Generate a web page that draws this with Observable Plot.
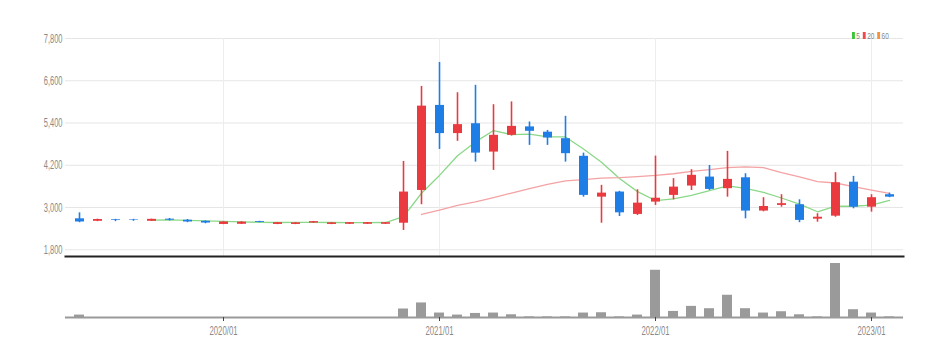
<!DOCTYPE html>
<html><head><meta charset="utf-8">
<script src="https://cdn.jsdelivr.net/npm/d3@7"></script>
<script src="https://cdn.jsdelivr.net/npm/@observablehq/plot@0.6"></script>
<style>
html,body{margin:0;padding:0;background:#fff;}
#wrap{position:relative;width:946px;height:356px;overflow:hidden;font-family:"Liberation Sans",Arial,sans-serif;}
#price{position:absolute;left:0;top:0;}
#vol{position:absolute;left:0;top:258px;}
#legend{position:absolute;left:852px;top:19px;transform:scaleX(0.72);transform-origin:0 0;}
#legend .lg-swatch{margin-right:4px !important;}
#legend .lg-swatch svg{margin-right:2px !important;}
</style></head><body>
<div id="wrap"><div id="price"></div><div id="vol"></div><div id="legend"></div></div>
<script>
const months = [
  "2019/05","2019/06","2019/07","2019/08","2019/09","2019/10","2019/11","2019/12",
  "2020/01","2020/02","2020/03","2020/04","2020/05","2020/06","2020/07","2020/08","2020/09","2020/10","2020/11","2020/12",
  "2021/01","2021/02","2021/03","2021/04","2021/05","2021/06","2021/07","2021/08","2021/09","2021/10","2021/11","2021/12",
  "2022/01","2022/02","2022/03","2022/04","2022/05","2022/06","2022/07","2022/08","2022/09","2022/10","2022/11","2022/12",
  "2023/01","2023/02"
];
const open = [
  2680,2610,2660,2660,2610,2670,2640,2610,
  2520,2525,2600,2520,2520,2560,2520,2525,2525,2525,2555,3485,
  5900,5100,5380,4575,5050,5290,5140,4955,4455,3295,3440,2805,
  3155,3345,3610,3865,3535,3845,2900,3060,3080,2670,2755,3720,
  3010,3365
];
const high = [
  2850,2670,2665,2665,2670,2690,2660,2620,
  2595,2600,2610,2575,2570,2605,2570,2575,2575,2575,4310,6440,
  7120,6260,6470,5920,6000,5430,5190,5590,4545,3630,3460,3505,
  4460,3820,4075,4195,4595,3960,3280,3365,3220,2825,3990,3885,
  3365,3410
];
const low = [
  2570,2600,2600,2610,2605,2620,2570,2540,
  2515,2520,2570,2515,2515,2555,2515,2520,2520,2520,2350,3080,
  4650,4880,4290,4055,5030,4765,4765,4290,3295,2555,2745,2775,
  3060,3220,3485,3485,3295,2680,2880,3010,2570,2585,2725,2965,
  2870,3280
];
const close = [
  2590,2660,2640,2645,2665,2640,2590,2560,
  2590,2585,2575,2570,2565,2600,2565,2570,2570,2570,3440,5880,
  5100,5355,4545,5050,5305,5165,4975,4530,3345,3410,2850,3125,
  3265,3580,3915,3515,3800,2900,3030,3110,2635,2725,3705,3010,
  3280,3295
];
// monthly volume (thousand shares, relative)
const volume = [
  240,0,0,0,0,0,0,0,
  0,0,0,0,0,0,0,0,0,0,840,1440,
  440,240,400,440,270,60,60,60,440,470,60,240,
  4670,600,1100,870,2200,870,440,570,270,60,5340,770,
  440,60
];
const yTicks = [1800,3000,4200,5400,6600,7800];
const xTicks = ["2020/01","2021/01","2022/01","2023/01"];
const maLabels = ["5","20","60"];
const maWindows = [5,20,60];
const maColors = ["#3cc43c","#f0484c","#f5923a"];
const maLineColors = ["#8ad888","#f4a2a4","#f5a04a"];

const RED = "#ea3a3f", BLUE = "#1f7de6";
const data = months.map((m,i)=>({month:m, open:open[i], high:high[i], low:low[i], close:close[i], volume:volume[i]}));
const ups = data.filter(d => d.close >= d.open);
const downs = data.filter(d => d.close < d.open);
const fontFamily = "'Liberation Sans', Arial, sans-serif";

function squeeze(svg, ratio) {
  svg.querySelectorAll("text").forEach(t => {
    const L = t.getComputedTextLength();
    if (L > 0) {
      t.setAttribute("textLength", (L * ratio).toFixed(2));
      t.setAttribute("lengthAdjust", "spacingAndGlyphs");
    }
  });
}

const candles = (rows, color) => [
  Plot.ruleX(rows,{x:"month", y1:"low", y2:"high", stroke:color, strokeWidth:1.6}),
  Plot.ruleX(rows,{x:"month", y1:"open", y2:"close", stroke:color, strokeWidth:9})
];

const price = Plot.plot({
  width:946, height:258,
  marginLeft:65, marginRight:43, marginTop:38, marginBottom:2,
  style:{fontFamily, fontSize:"12.5px", color:"#888", background:"transparent"},
  x:{type:"band", domain:months, padding:0, axis:null},
  y:{domain:[1610,7800], axis:null},
  marks:[
    Plot.gridY(yTicks,{stroke:"#e6e6e6", strokeOpacity:1}),
    Plot.gridX(xTicks,{stroke:"#ededed", strokeOpacity:1}),
    Plot.axisY(yTicks,{tickSize:0, tickPadding:3, tickFormat:d3.format(","), fill:"#8a8a8a", fontSize:12.5}),
    ...maWindows.map((k,j)=>Plot.lineY(data, Plot.windowY({k, anchor:"end", strict:true},
      {x:"month", y:"close", stroke:maLineColors[j], strokeWidth:1.3}))),
    ...candles(ups, RED),
    ...candles(downs, BLUE),
    Plot.frame({anchor:"bottom", stroke:"#222", strokeWidth:2})
  ]
});
document.getElementById("price").appendChild(price);
squeeze(price, 0.6);

const vol = Plot.plot({
  width:946, height:98,
  marginLeft:65, marginRight:43, marginTop:5, marginBottom:39,
  style:{fontFamily, fontSize:"12.5px", color:"#888", background:"transparent"},
  x:{type:"band", domain:months, padding:0, axis:null},
  y:{domain:[0,5340], axis:null},
  marks:[
    Plot.barY(data,{x:"month", y:"volume", fill:"#9a9a9a", insetLeft:4, insetRight:4}),
    Plot.ruleY([0],{stroke:"#9a9a9a", strokeWidth:2}),
    Plot.axisX(xTicks,{tickSize:4, tickPadding:5, stroke:"#444", fill:"#8a8a8a", fontSize:12.5, label:null})
  ]
});
document.getElementById("vol").appendChild(vol);
squeeze(vol, 0.62);

const legend = Plot.legend({
  color:{type:"ordinal", domain:maLabels, range:maColors},
  legend:"swatches", swatchWidth:4, swatchHeight:7, className:"lg",
  style:{fontFamily, fontSize:"9px", color:"#888"}
});
document.getElementById("legend").appendChild(legend);
</script>
</body></html>
